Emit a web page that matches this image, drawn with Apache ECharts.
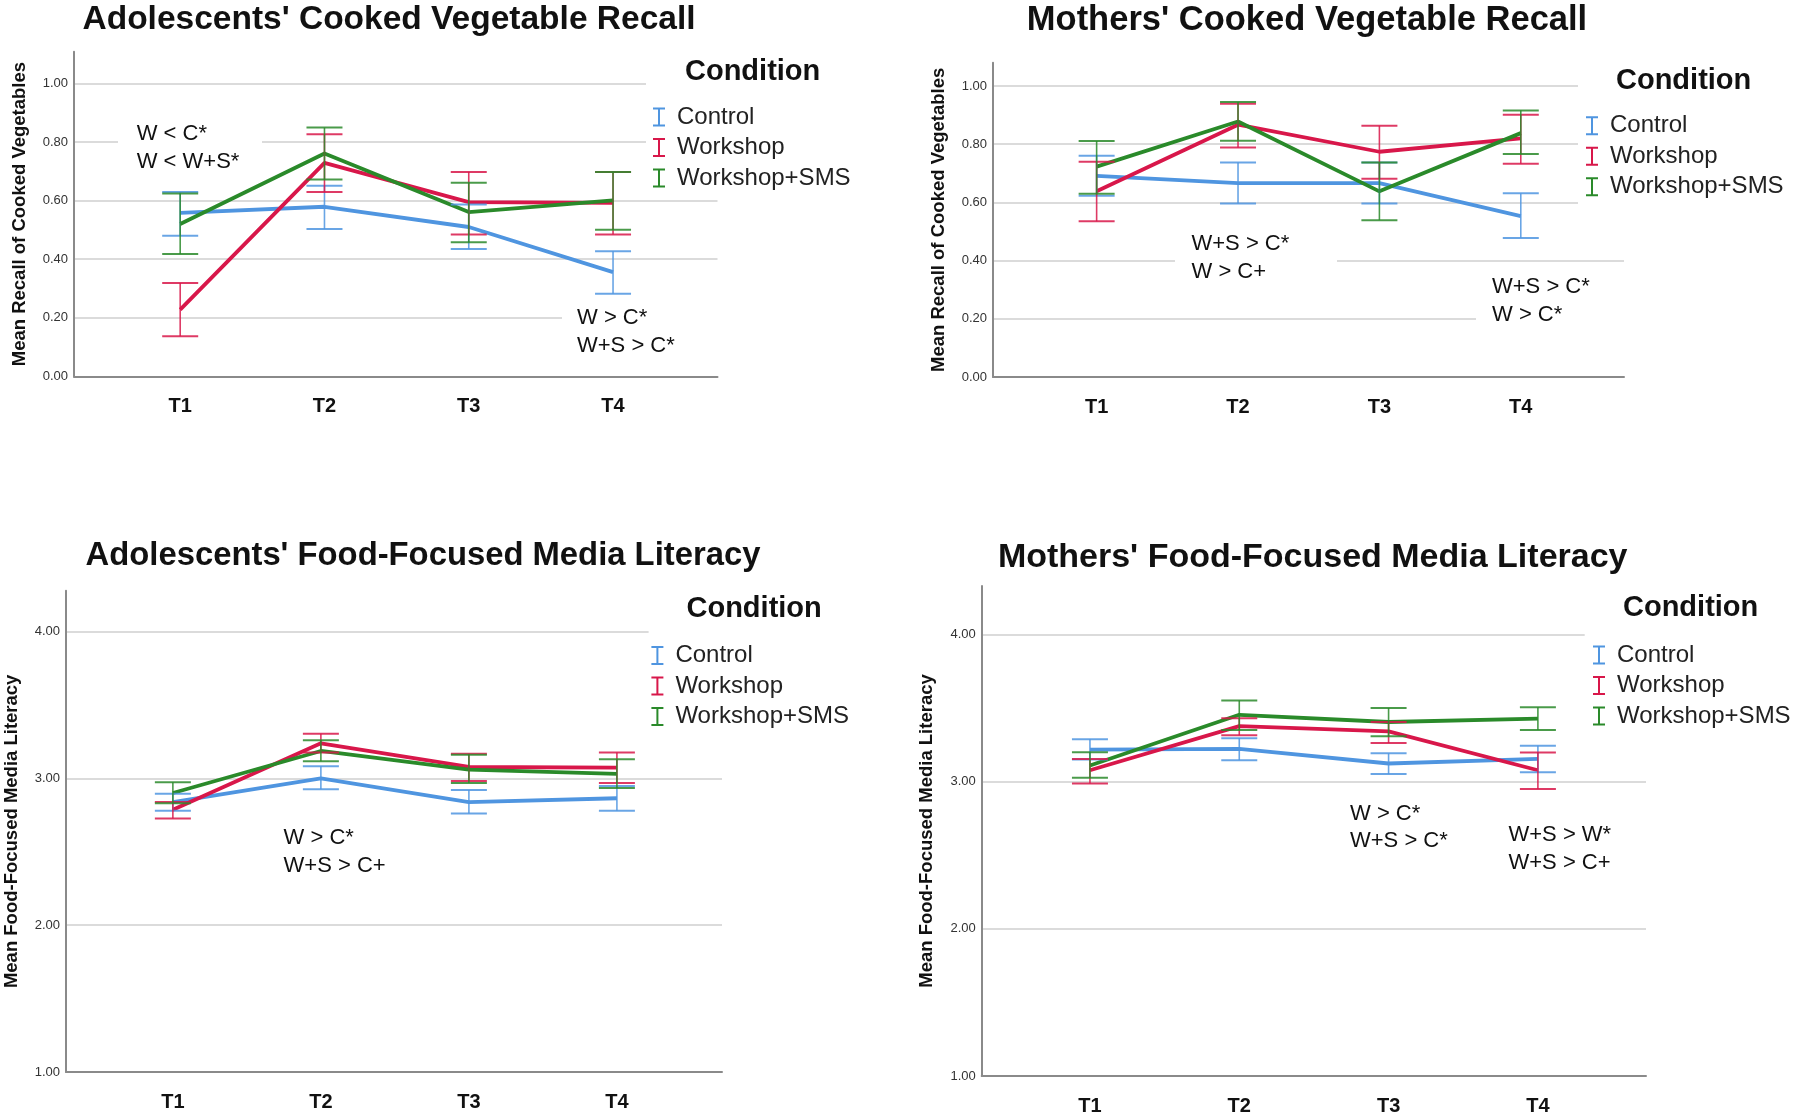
<!DOCTYPE html>
<html><head><meta charset="utf-8">
<script src="https://cdn.jsdelivr.net/npm/echarts@6/dist/echarts.min.js"></script>
<style>html,body{margin:0;padding:0;background:#fff}#c{width:1800px;height:1116px}</style>
</head><body><div id="c"></div>
<script>
// ---- data ----
const categories = ['T1', 'T2', 'T3', 'T4'];
const groups = ['Control', 'Workshop', 'Workshop+SMS'];

// Adolescents' cooked vegetable recall  (rows: Control, Workshop, Workshop+SMS)
const adolVegMean = [[0.558, 0.579, 0.510, 0.356], [0.228, 0.729, 0.595, 0.592], [0.520, 0.761, 0.561, 0.601]];
const adolVegLow  = [[0.480, 0.503, 0.435, 0.282], [0.137, 0.629, 0.484, 0.484], [0.418, 0.672, 0.458, 0.501]];
const adolVegHigh = [[0.629, 0.651, 0.587, 0.427], [0.319, 0.826, 0.698, 0.698], [0.624, 0.849, 0.661, 0.698]];

// Mothers' cooked vegetable recall
const momVegMean = [[0.691, 0.666, 0.666, 0.553], [0.638, 0.867, 0.774, 0.820], [0.723, 0.878, 0.638, 0.838]];
const momVegLow  = [[0.623, 0.596, 0.596, 0.478], [0.535, 0.789, 0.681, 0.733], [0.630, 0.812, 0.539, 0.766]];
const momVegHigh = [[0.760, 0.737, 0.737, 0.631], [0.740, 0.939, 0.863, 0.901], [0.811, 0.945, 0.737, 0.916]];

// Adolescents' food-focused media literacy
const adolMedMean = [[2.839, 3.000, 2.839, 2.865], [2.787, 3.239, 3.078, 3.073], [2.901, 3.187, 3.060, 3.031]];
const adolMedLow  = [[2.780, 2.927, 2.761, 2.779], [2.727, 3.177, 2.982, 2.969], [2.831, 3.117, 2.969, 2.935]];
const adolMedHigh = [[2.896, 3.083, 2.922, 2.948], [2.839, 3.304, 3.169, 3.177], [2.974, 3.260, 3.161, 3.130]];

// Mothers' food-focused media literacy
const momMedMean = [[3.218, 3.223, 3.123, 3.154], [3.077, 3.377, 3.341, 3.077], [3.110, 3.454, 3.405, 3.428]];
const momMedLow  = [[3.150, 3.146, 3.051, 3.064], [2.987, 3.315, 3.262, 2.949], [3.026, 3.351, 3.308, 3.351]];
const momMedHigh = [[3.287, 3.295, 3.192, 3.244], [3.154, 3.431, 3.405, 3.197], [3.200, 3.551, 3.500, 3.505]];

const titles = ["Adolescents' Cooked Vegetable Recall", "Mothers' Cooked Vegetable Recall",
                "Adolescents' Food-Focused Media Literacy", "Mothers' Food-Focused Media Literacy"];
const yNames = ['Mean Recall of Cooked Vegetables', 'Mean Recall of Cooked Vegetables',
                'Mean Food-Focused Media Literacy', 'Mean Food-Focused Media Literacy'];
const notes = [
  ['W < C*\nW < W+S*', 'W > C*\nW+S > C*'],
  ['W+S > C*\nW > C+', 'W+S > C*\nW > C*'],
  ['W > C*\nW+S > C+'],
  ['W > C*\nW+S > C*', 'W+S > W*\nW+S > C+']
];
const legendTitle = 'Condition';

// ---- layout / style ----
const FONT = "'Liberation Sans', Arial, sans-serif";
const colors = ['#4f95e0', '#d8174a', '#2a8a2a'];
const panels = [
  { mean: adolVegMean, low: adolVegLow, high: adolVegHigh, grid: [74, 51.7, 643.5, 324.8], y: [0, 1.108, 0.2], x: [0.264, 4.724],
    title: [389, 19.5], titleSize: 33.5, cond: [685, 71.7], legend: [653, 105],
    notePos: [[136.7, 148], [577, 332]],
    boxes: [[646, 40, 240, 150], [118, 118, 144, 58], [562, 298, 200, 64]] },
  { mean: momVegMean, low: momVegLow, high: momVegHigh, grid: [993, 62.7, 631, 314.3], y: [0, 1.080, 0.2], x: [0.267, 4.730],
    title: [1307, 20.8], titleSize: 34.5, cond: [1616, 80.6], legend: [1586, 113.8],
    notePos: [[1191.5, 258], [1492, 301]],
    boxes: [[1578, 40, 222, 190], [1175, 228, 162, 57], [1476, 272, 240, 68]] },
  { mean: adolMedMean, low: adolMedLow, high: adolMedHigh, grid: [66, 590.7, 656, 481.3], y: [1, 4.279, 1], x: [0.278, 4.710],
    title: [423, 556.4], titleSize: 32.8, cond: [686.5, 608.5], legend: [651.4, 643.4],
    notePos: [[283.6, 852]],
    boxes: [[648.6, 590, 240, 150]] },
  { mean: momMedMean, low: momMedLow, high: momMedHigh, grid: [981.7, 586, 664.3, 495.4], y: [1, 4.329, 1], x: [0.275, 4.724],
    title: [1312.7, 558], titleSize: 34, cond: [1623, 608.2], legend: [1593, 643],
    notePos: [[1350, 827.6], [1508.5, 848.8]],
    boxes: [[1584.7, 590, 215, 155]] }
];

function errRender(color) {
  return function (params, api) {
    const x = api.value(0);
    const pLo = api.coord([x, api.value(1)]);
    const pHi = api.coord([x, api.value(2)]);
    const hw = 18;
    const st = { stroke: color, lineWidth: 1.6, opacity: 0.85 };
    const cap = { stroke: color, lineWidth: 2, opacity: 0.85 };
    return { type: 'group', children: [
      { type: 'line', shape: { x1: pHi[0], y1: pHi[1], x2: pLo[0], y2: pLo[1] }, style: st },
      { type: 'line', shape: { x1: pHi[0] - hw, y1: pHi[1], x2: pHi[0] + hw, y2: pHi[1] }, style: cap },
      { type: 'line', shape: { x1: pLo[0] - hw, y1: pLo[1], x2: pLo[0] + hw, y2: pLo[1] }, style: cap }
    ]};
  };
}

const grid = [], xAxis = [], yAxis = [], series = [], legend = [], graphic = [];
panels.forEach((p, i) => {
  grid.push({ left: p.grid[0], top: p.grid[1], width: p.grid[2], height: p.grid[3], containLabel: false });
  xAxis.push({
    gridIndex: i, type: 'value', min: p.x[0], max: p.x[1],
    axisLine: { show: true, onZero: false, lineStyle: { color: '#8a8a8a', width: 2 } },
    axisTick: { show: false }, splitLine: { show: false },
    axisLabel: { customValues: [1, 2, 3, 4], formatter: v => categories[Math.round(v) - 1] || '',
                 fontSize: 20, fontWeight: 'bold', color: '#111', margin: 20, fontFamily: FONT }
  });
  const iv = p.y[2];
  yAxis.push({
    gridIndex: i, type: 'value', min: p.y[0], max: p.y[1], interval: iv,
    name: yNames[i], nameLocation: 'middle', nameGap: 45,
    nameTextStyle: { fontSize: 18.5, fontWeight: 'bold', color: '#111', fontFamily: FONT },
    axisLine: { show: true, lineStyle: { color: '#8a8a8a', width: 2 } },
    axisTick: { show: false },
    axisLabel: { formatter: v => (Math.abs(v / iv - Math.round(v / iv)) < 1e-6 ? v.toFixed(2) : ''),
                 fontSize: 13, color: '#333', margin: 6, fontFamily: FONT },
    splitLine: { show: true, showMaxLine: false, showMinLine: false, lineStyle: { color: '#cfcfcf', width: 1.5 } }
  });
  groups.forEach((g, k) => {
    series.push({
      type: 'line', name: g, xAxisIndex: i, yAxisIndex: i, animation: false, silent: true,
      data: categories.map((c, j) => [j + 1, p.mean[k][j]]),
      symbol: 'none', showSymbol: false,
      lineStyle: { color: colors[k], width: 3.8 }, itemStyle: { color: colors[k] }, z: 3
    });
  });
  groups.forEach((g, k) => {
    series.push({
      type: 'custom', name: g + ' 95% CI', xAxisIndex: i, yAxisIndex: i, animation: false, silent: true,
      data: categories.map((c, j) => [j + 1, p.low[k][j], p.high[k][j]]),
      encode: { x: 0, y: [1, 2] }, renderItem: errRender(colors[k]), z: 4
    });
  });
  legend.push({
    data: groups, orient: 'vertical', left: p.legend[0], top: p.legend[1], padding: 0,
    itemWidth: 12, itemHeight: 19, itemGap: 6.5, selectedMode: false,
    icon: 'path://M0,0H12V2H7V17H12V19H0V17H5V2H0Z',
    textStyle: { fontSize: 24, lineHeight: 24, color: '#222', fontFamily: FONT, padding: [0, 0, 0, 7] }
  });
  p.boxes.forEach(b => graphic.push({ type: 'rect', shape: { x: b[0], y: b[1], width: b[2], height: b[3] },
    style: { fill: '#ffffff' }, z: 1, silent: true }));
  graphic.push({ type: 'text', x: p.title[0], y: p.title[1], z: 10, silent: true,
    style: { text: titles[i], fontSize: p.titleSize, fontWeight: 'bold', fill: '#111', fontFamily: FONT, align: 'center', verticalAlign: 'middle' } });
  graphic.push({ type: 'text', x: p.cond[0], y: p.cond[1], z: 10, silent: true,
    style: { text: legendTitle, fontSize: 29, fontWeight: 'bold', fill: '#111', fontFamily: FONT, align: 'left', verticalAlign: 'middle' } });
  notes[i].forEach((t, n) => graphic.push({ type: 'text', x: p.notePos[n][0], y: p.notePos[n][1], z: 10, silent: true,
    style: { text: t, fontSize: 22, lineHeight: 27.5, fill: '#111', fontFamily: FONT, align: 'left', verticalAlign: 'middle' } }));
});

const chart = echarts.init(document.getElementById('c'), null, { renderer: 'canvas' });
chart.setOption({ backgroundColor: '#ffffff', animation: false, grid, xAxis, yAxis, series, legend, graphic });
</script></body></html>
